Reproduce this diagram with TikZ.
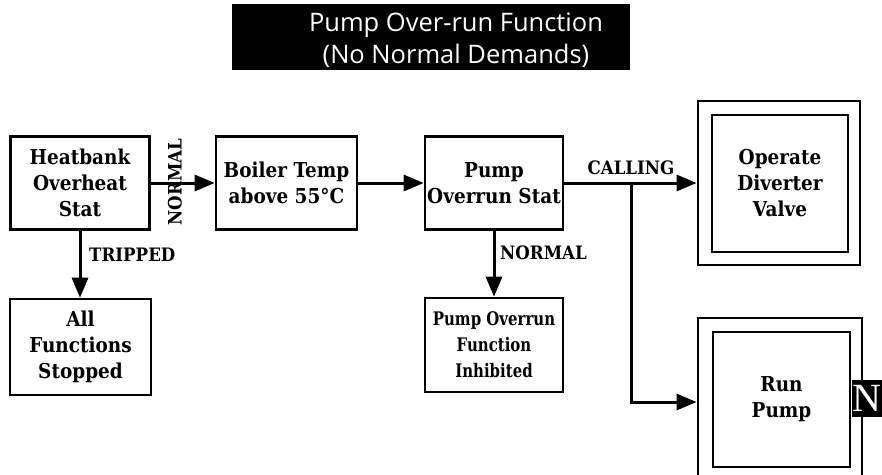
\documentclass[tikz,border=0pt]{standalone}
\usepackage{fontspec}
\setmainfont{DejaVu Serif}
\newfontfamily\titlefont{Open Sans}
\newfontfamily\condfont[FakeStretch=0.9]{DejaVu Serif}
\newfontfamily\inhfont[FakeStretch=0.8]{DejaVu Serif}
\newfontfamily\nfont{Liberation Serif}
\usetikzlibrary{arrows.meta}
\begin{document}
\begin{tikzpicture}[x=1pt,y=-1pt,
  box/.style={draw,line width=2.6pt,rectangle,inner sep=0pt,align=center,
    font=\condfont\bfseries\fontsize{20.5}{26}\selectfont},
  conn/.style={line width=3pt,-{Triangle[length=20pt,width=16pt]}},
  lbl/.style={font=\condfont\bfseries\fontsize{18.5}{20}\selectfont,inner sep=0pt}]
\useasboundingbox (0,0) rectangle (882,474);
\begin{scope}
\clip (0,0) rectangle (882,474);
% title
\node[fill=black,minimum width=398pt,minimum height=66pt,inner sep=0pt] (titlebox) at (431,37) {};
\node[text=white,align=center,inner sep=0pt,
  font=\titlefont\fontsize{25.5}{32}\selectfont] (title) at (456,40) {Pump Over-run Function\\(No Normal Demands)};
% boxes
\node[box,minimum width=139pt,minimum height=93pt] (heat) at (80,183) {Heatbank\\Overheat\\Stat};
\node[box,minimum width=141pt,minimum height=93pt] (boiler) at (286.5,183) {Boiler Temp\\above 55°C};
\node[box,minimum width=138pt,minimum height=93pt] (stat) at (494,183) {Pump\\Overrun Stat};
\node[box,minimum width=141pt,minimum height=96pt] (stop) at (80.5,347) {All\\Functions\\Stopped};
\node[box,minimum width=138pt,minimum height=94pt,font=\inhfont\bfseries\fontsize{18.7}{26}\selectfont] (inh) at (494,345) {Pump Overrun\\Function\\Inhibited};
% diverter
\node[draw,line width=2.8pt,minimum width=162pt,minimum height=164pt,inner sep=0pt] (divo) at (779,183) {};
\node[box,line width=2pt,minimum width=136pt,minimum height=137pt] (div) at (780,183.5) {Operate\\Diverter\\Valve};
% run pump
\node[draw,line width=2.8pt,minimum width=164pt,minimum height=172pt,inner sep=0pt] (runo) at (780,404) {};
\node[box,line width=2pt,minimum width=137pt,minimum height=135pt] (run) at (781.5,399.5) {Run\\Pump};
\node[fill=black,text=white,minimum width=30pt,minimum height=37pt,inner sep=0pt,
  font=\nfont\fontsize{40}{40}\selectfont] (n) at (867,398.5) {N};
% connectors
\draw[conn] (heat.east) -- (boiler.west);
\draw[conn] (boiler.east) -- (stat.west);
\draw[conn] (stat.east) -- (divo.west);
\coordinate (br) at (631,183);
\coordinate (brd) at (631,402);
\draw[conn,line join=miter] (br) -- (brd) -- (runo.west |- brd);
\draw[conn] (stat.south) -- (inh.north);
\draw[conn] (heat.south) -- (heat.south |- stop.north);
% labels
\node[lbl,rotate=90] (nl1) at (175,182) {NORMAL};
\node[lbl,anchor=west] (tl) at (89,255) {TRIPPED};
\node[lbl,anchor=west] (nl2) at (500,253) {NORMAL};
\node[lbl] (cl) at (631,168) {CALLING};
\end{scope}
\end{tikzpicture}
\end{document}
